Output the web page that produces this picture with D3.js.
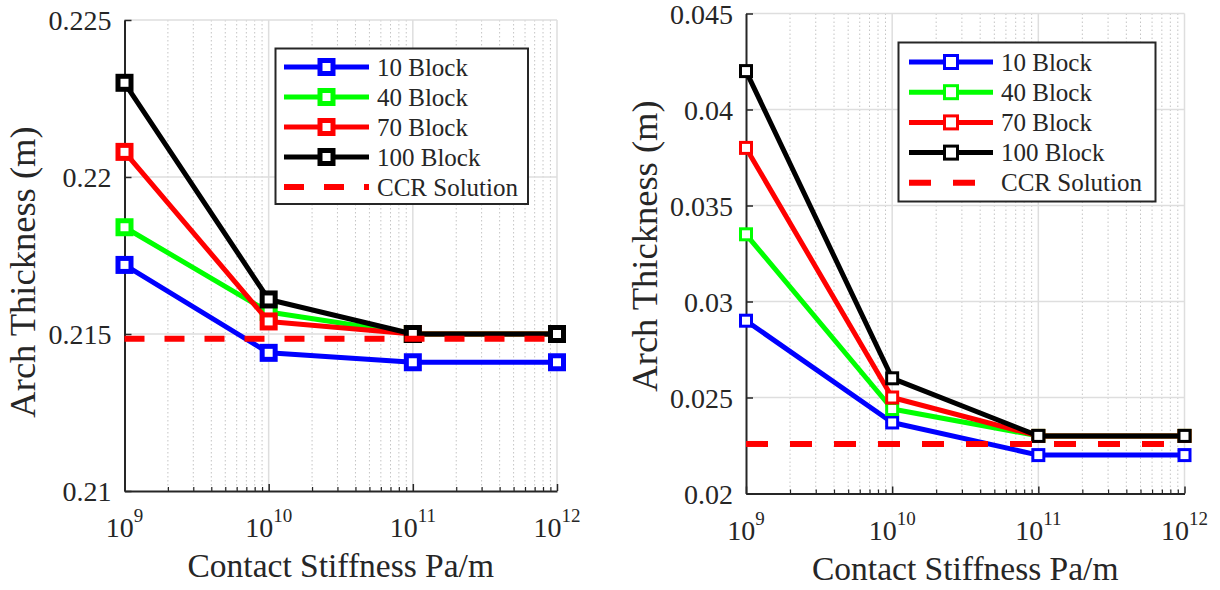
<!DOCTYPE html>
<html>
<head>
<meta charset="utf-8">
<script src="https://cdn.jsdelivr.net/npm/d3@7"></script>
<style>
    body { margin: 0; background: #ffffff; }
    text { font-family: 'Liberation Serif', 'Times New Roman', Tinos, Times, 'DejaVu Serif', serif !important; }
</style>
</head>
<body>
<svg id="figSVG" width="1220" height="590"></svg>
<script>
// contact stiffness values (x axis, log scale)
const stiffness = [1e9, 1e10, 1e11, 1e12];
const xTickExponents = [9, 10, 11, 12];

const seriesNames = ["10 Block", "40 Block", "70 Block", "100 Block"];
const seriesColors = ["#0000ff", "#00ff00", "#ff0000", "#000000"];
const ccrName = "CCR Solution";

// left plot - arch thickness (m)
const leftBlock10 = [0.2172, 0.2144, 0.2141, 0.2141];
const leftBlock40 = [0.2184, 0.2157, 0.2150, 0.2150];
const leftBlock70 = [0.2208, 0.2154, 0.2150, 0.2150];
const leftBlock100 = [0.2230, 0.2161, 0.2150, 0.2150];
const leftCCR = 0.21485;
const leftYTicks = [0.21, 0.215, 0.22, 0.225];

// right plot - arch thickness (m)
const rightBlock10 = [0.0290, 0.0237, 0.0220, 0.0220];
const rightBlock40 = [0.0335, 0.0244, 0.0230, 0.0230];
const rightBlock70 = [0.0380, 0.0250, 0.0230, 0.0230];
const rightBlock100 = [0.0420, 0.0260, 0.0230, 0.0230];
const rightCCR = 0.02258;
const rightYTicks = [0.02, 0.025, 0.03, 0.035, 0.04, 0.045];

const axisColor = "#262626";
const serifFont = "'Liberation Serif', 'Times New Roman', Tinos, Times, 'DejaVu Serif', serif";

class Plot{
    constructor(svgIn, seriesIn, ccrIn, yTicksIn, layoutIn){
        this.svg = svgIn;
        this.series = seriesIn;
        this.ccr = ccrIn;
        this.yTicks = yTicksIn;
        this.lay = layoutIn;
        this.grp = this.svg.append('g').attr('font-family', serifFont);
    }

    drawPlot(){
        this._setScales();
        this._drawGrid();
        this._drawAxises();
        this._drawLines();
        this._drawLabels();
        this._drawLegend();
    }

    _setScales(){
        this.xScale = d3.scaleLog()
            .domain(d3.extent(stiffness))
            .range([this.lay.left, this.lay.right]);
        this.yScale = d3.scaleLinear()
            .domain(d3.extent(this.yTicks))
            .range([this.lay.bottom, this.lay.top]);
    }

    _minorValues(){
        let vals = [];
        for(let e = xTickExponents[0]; e < xTickExponents[xTickExponents.length - 1]; e++){
            for(let k = 2; k <= 9; k++){ vals.push(k * Math.pow(10, e)); }
        }
        return vals;
    }

    _drawGrid(){
        let g = this.grp.append('g');
        // minor dotted grid
        g.selectAll('.minorGrid')
            .data(this._minorValues())
            .enter()
            .append('line')
            .attr('x1', d => this.xScale(d))
            .attr('x2', d => this.xScale(d))
            .attr('y1', this.lay.top)
            .attr('y2', this.lay.bottom)
            .attr('stroke', '#c4c4c4')
            .attr('stroke-width', 1)
            .attr('stroke-dasharray', '1.5,2.5');
        // major x grid
        g.selectAll('.majorGridX')
            .data(stiffness.slice(1))
            .enter()
            .append('line')
            .attr('x1', d => this.xScale(d))
            .attr('x2', d => this.xScale(d))
            .attr('y1', this.lay.top)
            .attr('y2', this.lay.bottom)
            .attr('stroke', '#dedede')
            .attr('stroke-width', 1.5);
        // major y grid
        g.selectAll('.majorGridY')
            .data(this.yTicks.slice(1))
            .enter()
            .append('line')
            .attr('x1', this.lay.left)
            .attr('x2', this.lay.right)
            .attr('y1', d => this.yScale(d))
            .attr('y2', d => this.yScale(d))
            .attr('stroke', '#dedede')
            .attr('stroke-width', 1.5);
    }

    _drawAxises(){
        // minor x ticks (inward)
        let minorAxis = d3.axisBottom(this.xScale)
            .tickValues(this._minorValues())
            .tickSizeInner(-4)
            .tickSizeOuter(0)
            .tickFormat("");
        this.grp.append('g')
            .attr('transform', 'translate(0,' + this.lay.bottom + ')')
            .call(minorAxis)
            .call(g => g.select('.domain').remove())
            .selectAll('line').attr('stroke', axisColor).attr('stroke-width', 1.2);

        let xAxis = d3.axisBottom(this.xScale)
            .tickValues(stiffness)
            .tickSizeInner(-7)
            .tickSizeOuter(0)
            .tickFormat("");
        let xg = this.grp.append('g')
            .attr('transform', 'translate(0,' + this.lay.bottom + ')')
            .call(xAxis);
        xg.select('.domain').attr('stroke', axisColor).attr('stroke-width', 2);
        xg.selectAll('line').attr('stroke', axisColor).attr('stroke-width', 1.5);

        let yAxis = d3.axisLeft(this.yScale)
            .tickValues(this.yTicks)
            .tickSizeInner(-7)
            .tickSizeOuter(0)
            .tickPadding(13)
            .tickFormat(d => String(+d.toFixed(3)));
        let yg = this.grp.append('g')
            .attr('transform', 'translate(' + this.lay.left + ',0)')
            .call(yAxis)
            .attr('font-family', serifFont);
        yg.select('.domain').attr('stroke', axisColor).attr('stroke-width', 2);
        yg.selectAll('line').attr('stroke', axisColor).attr('stroke-width', 1.5);
        yg.selectAll('text')
            .attr('fill', axisColor)
            .attr('dy', '0.34em')
            .attr('font-family', serifFont)
            .attr('font-size', 28);

        // x tick labels 10^n
        let lbl = this.grp.selectAll('.xTickLabel')
            .data(xTickExponents)
            .enter()
            .append('text')
            .attr('x', (d, i) => this.xScale(stiffness[i]))
            .attr('y', this.lay.bottom + 46)
            .attr('text-anchor', 'middle')
            .attr('fill', axisColor)
            .attr('font-family', serifFont)
            .attr('font-size', 28);
        lbl.append('tspan').text('10');
        lbl.append('tspan')
            .attr('dy', -15)
            .attr('font-size', 19)
            .text(d => d);
    }

    _drawLines(){
        let line = d3.line()
            .x((d, i) => this.xScale(stiffness[i]))
            .y(d => this.yScale(d));

        this.series.forEach((vals, s) => {
            this.grp.append('path')
                .datum(vals)
                .attr('d', line)
                .attr('fill', 'none')
                .attr('stroke', seriesColors[s])
                .attr('stroke-width', this.lay.lineW)
                .attr('stroke-linejoin', 'round');
            this.grp.selectAll('.mk' + s)
                .data(vals)
                .enter()
                .append('rect')
                .attr('x', (d, i) => this.xScale(stiffness[i]) - this.lay.mk / 2)
                .attr('y', d => this.yScale(d) - this.lay.mk / 2)
                .attr('width', this.lay.mk)
                .attr('height', this.lay.mk)
                .attr('fill', '#ffffff')
                .attr('stroke', seriesColors[s])
                .attr('stroke-width', this.lay.mkW);
        });

        // CCR solution dashed line
        let ccrPts = [[stiffness[0], this.ccr], [stiffness[stiffness.length - 1], this.ccr]];
        this.grp.append('path')
            .datum(ccrPts)
            .attr('d', d3.line().x(d => this.xScale(d[0])).y(d => this.yScale(d[1])))
            .attr('stroke', '#ff0000')
            .attr('stroke-width', 6)
            .attr('stroke-dasharray', this.lay.dash);
    }

    _drawLabels(){
        this.grp.append('text')
            .attr('x', (this.lay.left + this.lay.right) / 2)
            .attr('y', this.lay.xLabelY)
            .attr('text-anchor', 'middle')
            .attr('fill', axisColor)
            .attr('font-size', 33.5)
            .text('Contact Stiffness Pa/m');

        this.grp.append('text')
            .attr('transform', 'translate(' + this.lay.yLabelX + ',' + this.lay.yLabelY + ') rotate(-90)')
            .attr('text-anchor', 'middle')
            .attr('fill', axisColor)
            .attr('font-size', 36.5)
            .text('Arch Thickness (m)');
    }

    _drawLegend(){
        let L = this.lay.legend;
        let legGrp = this.grp.append('g');
        legGrp.append('rect')
            .attr('x', L.x0)
            .attr('y', L.y0)
            .attr('width', L.x1 - L.x0)
            .attr('height', L.y1 - L.y0)
            .attr('fill', '#ffffff')
            .attr('stroke', axisColor)
            .attr('stroke-width', 2);

        let names = seriesNames.concat([ccrName]);
        names.forEach((name, i) => {
            let y = L.row0 + i * L.rowStep;
            let isCCR = i === seriesNames.length;
            legGrp.append('line')
                .attr('x1', L.lineX0)
                .attr('x2', L.lineX1)
                .attr('y1', y)
                .attr('y2', y)
                .attr('stroke', isCCR ? '#ff0000' : seriesColors[i])
                .attr('stroke-width', isCCR ? 6 : this.lay.lineW)
                .attr('stroke-dasharray', isCCR ? this.lay.dash : null);
            if(!isCCR){
                legGrp.append('rect')
                    .attr('x', L.mkX - this.lay.legMk / 2)
                    .attr('y', y - this.lay.legMk / 2)
                    .attr('width', this.lay.legMk)
                    .attr('height', this.lay.legMk)
                    .attr('fill', '#ffffff')
                    .attr('stroke', seriesColors[i])
                    .attr('stroke-width', this.lay.mkW);
            }
            legGrp.append('text')
                .attr('x', L.textX)
                .attr('y', y)
                .attr('dy', '0.34em')
                .attr('fill', axisColor)
                .attr('font-size', 25)
                .text(name);
        });
    }
}

let svg = d3.select('#figSVG');
svg.append('rect').attr('width', 1220).attr('height', 590).attr('fill', '#ffffff');

let leftPlot = new Plot(svg,
    [leftBlock10, leftBlock40, leftBlock70, leftBlock100],
    leftCCR, leftYTicks,
    {left: 124.5, right: 557, top: 20, bottom: 491,
     lineW: 5, mk: 13, mkW: 5, legMk: 13, dash: '20,20',
     xLabelY: 577, yLabelX: 35, yLabelY: 272,
     legend: {x0: 275.5, x1: 528, y0: 48.5, y1: 204, row0: 67, rowStep: 30,
              lineX0: 284, lineX1: 369, mkX: 326.5, textX: 377}});
leftPlot.drawPlot();

let rightPlot = new Plot(svg,
    [rightBlock10, rightBlock40, rightBlock70, rightBlock100],
    rightCCR, rightYTicks,
    {left: 746, right: 1184.5, top: 13.5, bottom: 493.5,
     lineW: 5, mk: 11, mkW: 3, legMk: 13, dash: '22,22',
     xLabelY: 580, yLabelX: 657, yLabelY: 246,
     legend: {x0: 898.5, x1: 1155.5, y0: 42.5, y1: 201.5, row0: 62, rowStep: 30.2,
              lineX0: 909, lineX1: 993, mkX: 951, textX: 1001}});
rightPlot.drawPlot();
</script>
</body>
</html>
